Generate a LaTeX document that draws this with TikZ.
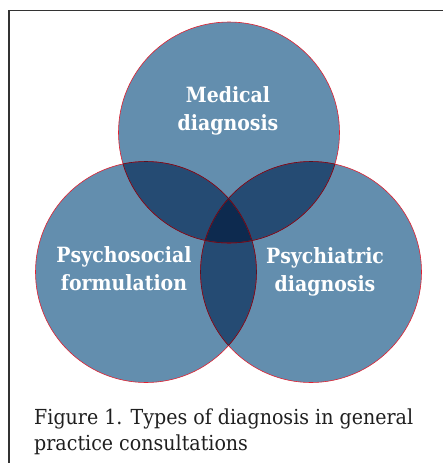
\documentclass[tikz,border=0pt]{standalone}
\usepackage{fontspec}
\setmainfont{DejaVu Serif}
\newfontfamily\labelfont[FakeStretch=0.9]{DejaVu Serif}
\newfontfamily\capfont[FakeStretch=0.92]{DejaVu Serif}
\definecolor{basecol}{HTML}{638EAE}
\definecolor{paircol}{HTML}{254B73}
\definecolor{triplecol}{HTML}{0D2A4F}
\definecolor{rimred}{HTML}{E02030}
\definecolor{innerred}{HTML}{5A1020}
\definecolor{framecol}{HTML}{333333}
\begin{document}
\begin{tikzpicture}[x=1pt,y=-1pt,
  lbl/.style={text=white,align=center,font=\labelfont\bfseries\fontsize{21}{28}\selectfont},
  captext/.style={anchor=base west,inner sep=0pt,font=\capfont\fontsize{20.7}{26}\selectfont,text=black!88}]
\useasboundingbox (0,0) rectangle (443,463);
\def\R{110.5}
\coordinate (T) at (229,132.5);
\coordinate (L) at (146,272);
\coordinate (Rt) at (311,272);
% frame
\draw[framecol,line width=1.6pt] (9,463) -- (9,10.5) -- (443,10.5);
% base fills
\fill[basecol] (T) circle (\R);
\fill[basecol] (L) circle (\R);
\fill[basecol] (Rt) circle (\R);
% pairwise overlaps
\begin{scope}\clip (T) circle (\R); \fill[paircol] (L) circle (\R); \fill[paircol] (Rt) circle (\R);\end{scope}
\begin{scope}\clip (L) circle (\R); \fill[paircol] (Rt) circle (\R);\end{scope}
% triple
\begin{scope}\clip (T) circle (\R); \clip (L) circle (\R); \fill[triplecol] (Rt) circle (\R);\end{scope}
% outlines
\draw[rimred,line width=0.6pt] (T) circle (\R);
\draw[rimred,line width=0.6pt] (L) circle (\R);
\draw[rimred,line width=0.6pt] (Rt) circle (\R);
\begin{scope}\clip (T) circle (\R); \draw[innerred,line width=0.6pt] (L) circle (\R); \draw[innerred,line width=0.6pt] (Rt) circle (\R);\end{scope}
\begin{scope}\clip (L) circle (\R); \draw[innerred,line width=0.6pt] (T) circle (\R); \draw[innerred,line width=0.6pt] (Rt) circle (\R);\end{scope}
\begin{scope}\clip (Rt) circle (\R); \draw[innerred,line width=0.6pt] (T) circle (\R); \draw[innerred,line width=0.6pt] (L) circle (\R);\end{scope}
% labels
\node[lbl] (med) at (228,111) {Medical\\diagnosis};
\node[lbl] (psy) at (124,269) {Psychosocial\\formulation};
\node[lbl] (psc) at (325,272) {Psychiatric\\diagnosis};
\node[captext] (cap1) at (34,424) {Figure 1. Types of diagnosis in general};
\node[captext] (cap2) at (34,450) {practice consultations};
\end{tikzpicture}
\end{document}
